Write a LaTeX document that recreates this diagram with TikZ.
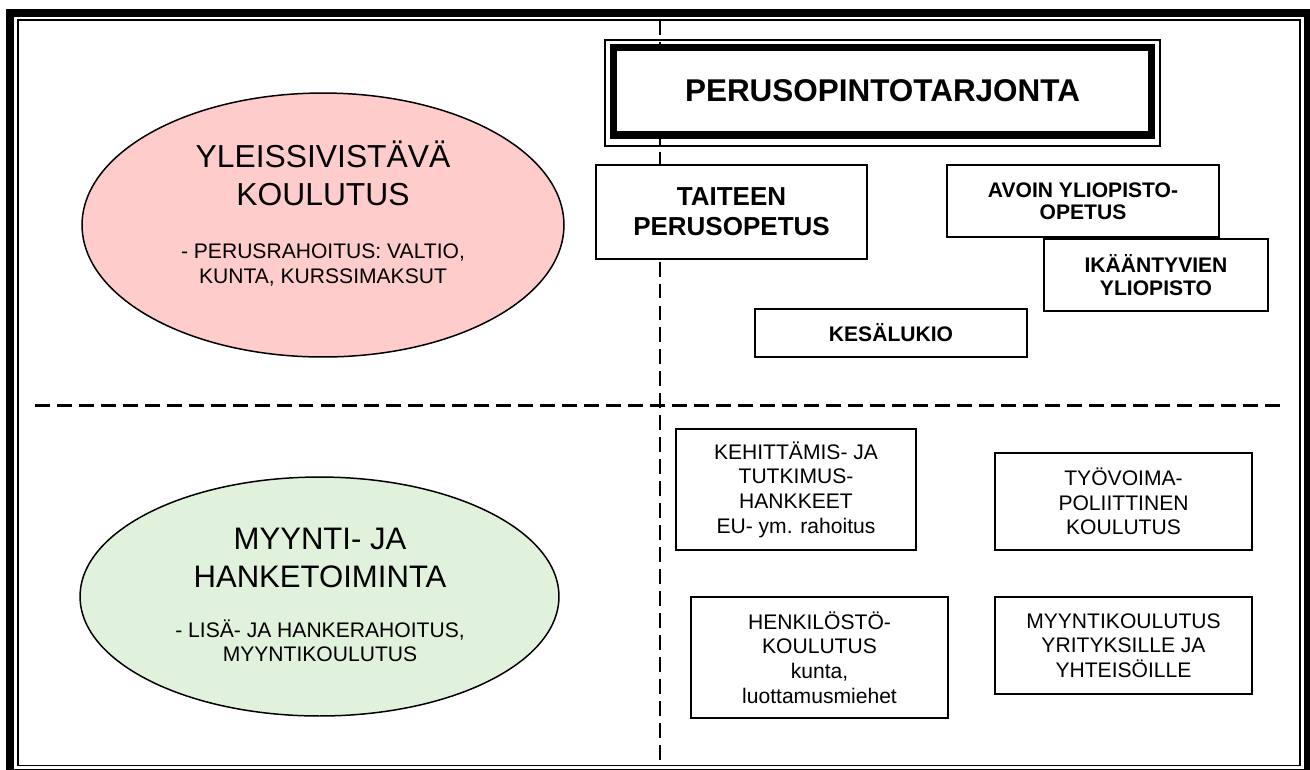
\documentclass[tikz,border=0pt]{standalone}
\usepackage{fontspec}
\setmainfont{Liberation Sans}
\usetikzlibrary{shapes.geometric,positioning}
\definecolor{pinkfill}{RGB}{255,204,204}
\definecolor{greenfill}{RGB}{225,242,220}

\begin{document}
\begin{tikzpicture}[x=0.02cm,y=-0.02cm,
      zone/.style={ellipse,draw,line width=0.85pt,inner sep=0pt},
      zone title/.style={align=center,inner sep=0pt,font=\fontsize{18.1}{21.5}\selectfont},
      zone note/.style={align=center,inner sep=0pt,font=\fontsize{12}{13.9}\selectfont},
      title box/.style={draw,fill=white,line width=4pt,outer sep=0pt,inner sep=0pt,
        minimum width=10.76cm,minimum height=1.76cm,font=\bfseries\fontsize{17.9}{21}\selectfont},
      base box/.style={draw,fill=white,line width=1.1pt,align=center,inner sep=0pt,
        font=\bfseries\fontsize{12}{12.8}\selectfont},
      sale box/.style={draw,fill=white,line width=1.1pt,align=center,inner sep=0pt,
        font=\fontsize{12}{14}\selectfont},
      divider/.style={line width=1.3pt,dash pattern=on 8.5pt off 4pt}]

  \useasboundingbox (0,0) rectangle (1310,769);
  \draw[line width=4pt] (10,13) rectangle (1307.5,772);
  \draw[line width=0.9pt] (18,20) rectangle (1300,765.5);

  \draw[divider] (660,20) -- (660,765);
  \draw[divider] (35,405.5) -- (1283,405.5);

  % left half: the two fields
  \node[zone,fill=pinkfill,minimum width=9.64cm,minimum height=5.28cm] (yleis) at (323,225) {};
  \node[zone title] (yleisname) at (323,173) {YLEISSIVISTÄVÄ\\KOULUTUS};
  \node[zone note] (yleisfund) at (323,265) {- PERUSRAHOITUS: VALTIO,\\KUNTA, KURSSIMAKSUT};

  \node[zone,fill=greenfill,minimum width=9.58cm,minimum height=4.78cm] (myynti) at (319.5,596.5) {};
  \node[zone title,font=\fontsize{17.7}{21.5}\selectfont] (myyntiname) at (320,558) {MYYNTI- JA\\HANKETOIMINTA};
  \node[zone note] (myyntifund) at (320,641) {- LISÄ- JA HANKERAHOITUS,\\MYYNTIKOULUTUS};

  % right half: basic studies
  \node[title box] (title) at (882.5,91) {PERUSOPINTOTARJONTA};
  \draw[line width=0.9pt] ([shift={(-8.5,-7)}]title.north west) rectangle ([shift={(8.5,11)}]title.south east);

  \node[base box,minimum width=5.42cm,minimum height=1.88cm,
    font=\bfseries\fontsize{14.8}{17}\selectfont] (taide) at (731.5,212) {TAITEEN\\PERUSOPETUS};
  \node[base box,minimum width=5.44cm,minimum height=1.44cm] (avoin) at (1083,201) {AVOIN YLIOPISTO-\\OPETUS};
  \node[base box,minimum width=4.48cm,minimum height=1.44cm,anchor=north east]
    (ikaan) at ([shift={(49,0)}]avoin.south east) {IKÄÄNTYVIEN\\YLIOPISTO};
  \node[base box,minimum width=5.44cm,minimum height=0.96cm] (kesa) at (891,333) {KESÄLUKIO};

  % right half: sales and projects
  \node[sale box,minimum width=4.8cm,minimum height=2.42cm] (hanke) at (796,489.5)
    {KEHITTÄMIS- JA\\TUTKIMUS-\\HANKKEET\\EU- ym. rahoitus};
  \node[sale box,minimum width=5.14cm,minimum height=1.94cm] (tyovoima) at (1123.5,501.5)
    {TYÖVOIMA-\\POLIITTINEN\\KOULUTUS};
  \node[sale box,minimum width=5.14cm,minimum height=2.42cm] (henkilo) at (819.5,657.5)
    {HENKILÖSTÖ-\\KOULUTUS\\kunta,\\luottamusmiehet};
  \node[sale box,minimum width=5.14cm,minimum height=1.94cm,below=0.9cm of tyovoima] (myyntikoul)
    {MYYNTIKOULUTUS\\YRITYKSILLE JA\\YHTEISÖILLE};
\end{tikzpicture}
\end{document}
